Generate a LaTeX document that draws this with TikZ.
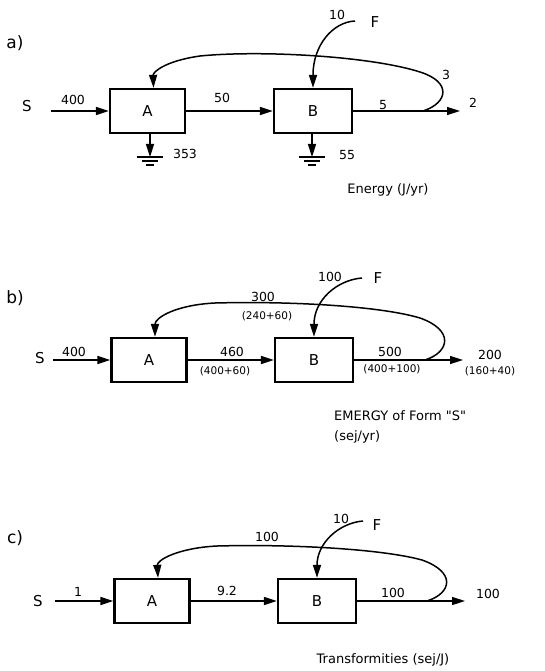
\documentclass[tikz,border=0pt]{standalone}
\usepackage{fontspec}
\setmainfont{DejaVu Sans}
\newfontfamily\plainfont{DejaVu Sans}
\usetikzlibrary{arrows.meta}
\begin{document}
\begin{tikzpicture}[x=1pt, y=-1pt,
  every node/.style={font=\fontsize{12.5}{14}\selectfont, inner sep=1pt},
  box/.style={draw, line width=2.3pt, minimum width=75pt, minimum height=44pt, font=\fontsize{15}{17}\selectfont},
  flow/.style={line width=1.5pt, -{Triangle[length=13pt, width=8pt]}},
  big/.style={font=\fontsize{15}{17}\selectfont},
  note/.style={font=\fontsize{10.5}{12}\selectfont},
  panel/.style={font=\fontsize{17}{19}\selectfont},
  caption/.style={font=\fontsize{13}{20}\selectfont, align=left}]
  \useasboundingbox (0,0) rectangle (544,671);

  % a) Energy
  \node[panel] (pa) at (15,43) {a)};
  \node[big] (sa) at (27,106) {S};
  \node[box] (aa) at (147.5,111) {A};
  \node[box, minimum width=78pt] (ba) at (313,111) {B};
  \coordinate (ina) at (51,111);
  \coordinate (outa) at (460,111);
  \coordinate (loopa) at (423,111);
  \coordinate (fa) at (355,21);
  \coordinate (gaa) at (150,157);
  \coordinate (gba) at (312,157);
  \draw[flow] (ina) -- (aa.west);
  \draw[flow] (aa.east) -- (ba.west);
  \draw[flow] (ba.east) -- (outa);
  \draw[flow] (loopa) .. controls (448,103) and (452,82) .. (420,72)
    .. controls (370,56) and (260,50) .. (200,56)
    .. controls (165,61) and (153,72) .. ([xshift=6pt]aa.north);
  \draw[flow] (fa) .. controls (333,22) and (313,45) .. (ba.north);
  % heat sinks
  \draw[flow] (aa.south -| gaa) -- (gaa);
  \draw[flow] (ba.south -| gba) -- (gba);
  \foreach \g in {gaa, gba} {
    \draw[line width=1.2pt] (\g) ++(-13,0) -- ++(26,0)
      (\g) ++(-8,4) -- ++(16,0) (\g) ++(-4,8) -- ++(8,0);
  }
  \node (na1) at (73,100) {400};
  \node (na2) at (222,98) {50};
  \node (na3) at (383,105) {5};
  \node (na4) at (473,103) {2};
  \node (na5) at (446,75) {3};
  \node (na6) at (337,15) {10};
  \node[big] (fla) at (375,22) {F};
  \node (na7) at (185,154) {353};
  \node (na8) at (347,155) {55};
  \node[caption] (capa) at (388,190) {Energy (J/yr)};

  % b) EMERGY
  \node[panel] (pb) at (15,298) {b)};
  \node[big] (sb) at (40,358) {S};
  \node[box] (ab) at (149,360) {A};
  \node[box, minimum width=78pt] (bb) at (314,360) {B};
  \coordinate (inb) at (53,360);
  \coordinate (outb) at (463,360);
  \coordinate (loopb) at (425,360);
  \coordinate (fb) at (362,278);
  \draw[flow] (inb) -- (ab.west);
  \draw[flow] (ab.east) -- (bb.west);
  \draw[flow] (bb.east) -- (outb);
  \draw[flow] (loopb) .. controls (450,352) and (454,330) .. (420,318)
    .. controls (380,306) and (290,301) .. (215,303)
    .. controls (175,305) and (155,318) .. ([xshift=6pt]ab.north);
  \draw[flow] (fb) .. controls (337,280) and (314,300) .. (bb.north);
  \node (nb1) at (74,352) {400};
  \node (nb2) at (232,352) {460};
  \node[note] (nb3) at (225,371) {(400+60)};
  \node (nb4) at (390,352) {500};
  \node[note] (nb5) at (392,369) {(400+100)};
  \node (nb6) at (490,355) {200};
  \node[note] (nb7) at (490,371) {(160+40)};
  \node (nb8) at (263,297) {300};
  \node[note] (nb9) at (267,316) {(240+60)};
  \node (nb10) at (330,277) {100};
  \node[big] (flb) at (378,278) {F};
  \node[caption, anchor=west] (capb) at (333,427) {EMERGY of Form {\plainfont"S"}\\(sej/yr)};

  % c) Transformities
  \node[panel] (pc) at (15,538) {c)};
  \node[big] (sc) at (38,601) {S};
  \node[box] (ac) at (152,601) {A};
  \node[box, minimum width=78pt] (bc) at (317,601) {B};
  \coordinate (inc) at (55,601);
  \coordinate (outc) at (465,601);
  \coordinate (loopc) at (427,601);
  \coordinate (fc) at (363,521);
  \draw[flow] (inc) -- (ac.west);
  \draw[flow] (ac.east) -- (bc.west);
  \draw[flow] (bc.east) -- (outc);
  \draw[flow] (loopc) .. controls (452,593) and (456,572) .. (422,560)
    .. controls (382,549) and (292,544) .. (217,546)
    .. controls (178,548) and (157,560) .. ([xshift=6pt]ac.north);
  \draw[flow] (fc) .. controls (339,523) and (317,543) .. (bc.north);
  \node (nc1) at (78,592) {1};
  \node (nc2) at (227,591) {9.2};
  \node (nc3) at (393,593) {100};
  \node (nc4) at (488,594) {100};
  \node (nc5) at (267,537) {100};
  \node (nc6) at (341,519) {10};
  \node[big] (flc) at (377,525) {F};
  \node[caption] (capc) at (383,660) {Transformities (sej/J)};
\end{tikzpicture}
\end{document}
